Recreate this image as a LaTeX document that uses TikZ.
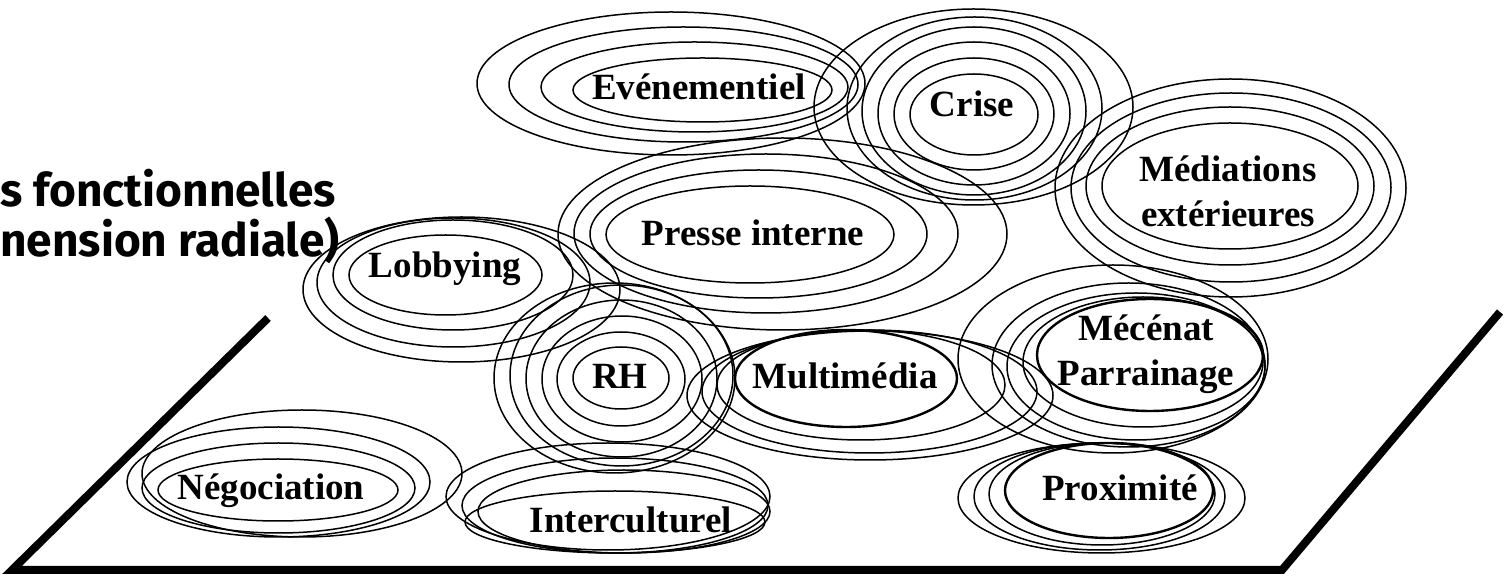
\documentclass[tikz,border=0pt]{standalone}
\usepackage{fontspec}
\setmainfont{Liberation Serif}
\newfontfamily\titlefont{Fira Sans}
\usepackage{tikz}
\usetikzlibrary{positioning}

\begin{document}
\begin{tikzpicture}[x=0.5pt, y=-0.5pt,
    ring/.style={line width=0.75pt},
    thickring/.style={line width=1.2pt},
    lbl/.style={font=\fontsize{18.5}{22.5}\selectfont\bfseries, inner sep=0pt, anchor=base, align=center}]

  \useasboundingbox (0,0) rectangle (1510,576);

  % Plane (thick outline)
  \draw[line width=4pt] (268,318) -- (12,570) -- (1282,570) -- (1500,312);

  % Title, cut at left edge (base = last line)
  \node[inner sep=0pt, anchor=base west, align=left,
        font=\titlefont\fontsize{23}{25}\selectfont\bfseries] (titre) at (0,257)
        {s fonctionnelles\\nension radiale)};

  % Rings: left/right/top/bottom in px
  % Evénementiel
  \foreach \l/\r/\t/\b in {573/832/58/122, 541/848/42/132, 509/858/27/142, 477/865/12/155}
    \draw[ring] ({(\l+\r)/2},{(\t+\b)/2}) ellipse ({(\r-\l)/2} and {(\b-\t)/2});

  % Crise
  \foreach \l/\r/\t/\b in {910/1038/74/155, 894/1054/58/170, 878/1070/42/185,
                          862/1086/27/195, 847/1102/17/200, 814/1133/9/205}
    \draw[ring] ({(\l+\r)/2},{(\t+\b)/2}) ellipse ({(\r-\l)/2} and {(\b-\t)/2});

  % Médiations extérieures
  \foreach \l/\r/\t/\b in {1102/1358/123/249, 1086/1374/107/265, 1071/1391/93/282, 1055/1406/79/297}
    \draw[ring] ({(\l+\r)/2},{(\t+\b)/2}) ellipse ({(\r-\l)/2} and {(\b-\t)/2});

  % Presse interne
  \foreach \l/\r/\t/\b in {606/894/186/283, 590/927/170/298, 574/958/154/313, 558/1007/138/330}
    \draw[ring] ({(\l+\r)/2},{(\t+\b)/2}) ellipse ({(\r-\l)/2} and {(\b-\t)/2});

  % Lobbying
  \foreach \l/\r/\t/\b in {349/542/235/315, 333/573/220/330, 317/590/218/347, 303/620/217/362}
    \draw[ring] ({(\l+\r)/2},{(\t+\b)/2}) ellipse ({(\r-\l)/2} and {(\b-\t)/2});

  % RH
  \foreach \l/\r/\t/\b in {573/669/347/409, 557/685/332/426, 542/702/316/442,
                          526/717/300/457, 510/733/285/466, 494/735/283/473}
    \draw[ring] ({(\l+\r)/2},{(\t+\b)/2}) ellipse ({(\r-\l)/2} and {(\b-\t)/2});

  % Multimédia
  \draw[thickring] (846,378.5) ellipse (111 and 48.5);
  \foreach \l/\r/\t/\b in {717/1005/330/440, 702/1037/330/453, 687/1053/331/460}
    \draw[ring] ({(\l+\r)/2},{(\t+\b)/2}) ellipse ({(\r-\l)/2} and {(\b-\t)/2});

  % Mécénat Parrainage
  \draw[thickring] (1150,355) ellipse (113 and 56);
  \foreach \l/\r/\t/\b in {1023/1263/297/427, 1007/1265/293/440, 992/1265/283/447, 958/1268/265/453}
    \draw[ring] ({(\l+\r)/2},{(\t+\b)/2}) ellipse ({(\r-\l)/2} and {(\b-\t)/2});

  % Proximité
  \draw[thickring] (1109,490.5) ellipse (104 and 47.5);
  \foreach \l/\r/\t/\b in {989/1215/443/545, 974/1225/443/550, 958/1245/443/553}
    \draw[ring] ({(\l+\r)/2},{(\t+\b)/2}) ellipse ({(\r-\l)/2} and {(\b-\t)/2});

  % Interculturel
  \foreach \l/\r/\t/\b in {465/765/491/553, 446/770/443/550, 462/768/458/553, 478/770/470/553}
    \draw[ring] ({(\l+\r)/2},{(\t+\b)/2}) ellipse ({(\r-\l)/2} and {(\b-\t)/2});

  % Négociation
  \foreach \l/\r/\t/\b in {158/398/459/521, 142/415/443/533, 127/430/427/537, 142/462/410/537}
    \draw[ring] ({(\l+\r)/2},{(\t+\b)/2}) ellipse ({(\r-\l)/2} and {(\b-\t)/2});

  % Labels (base point, last line for two-line ones)
  \node[lbl] (evenementiel) at (699,100)  {Evénementiel};
  \node[lbl] (crise)        at (972,117)  {Crise};
  \node[lbl] (mediations)   at (1228,227) {Médiations\\extérieures};
  \node[lbl] (presse)       at (753,246)  {Presse interne};
  \node[lbl] (lobbying)     at (445,278)  {Lobbying};
  \node[lbl] (rh)           at (620,389)  {RH};
  \node[lbl] (multimedia)   at (845,389)  {Multimédia};
  \node[lbl] (mecenat)      at (1146,386) {Mécénat\\Parrainage};
  \node[lbl] (proximite)    at (1120,501) {Proximité};
  \node[lbl] (interculturel) at (631,533) {Interculturel};
  \node[lbl] (negociation)  at (271,500)  {Négociation};

\end{tikzpicture}
\end{document}
